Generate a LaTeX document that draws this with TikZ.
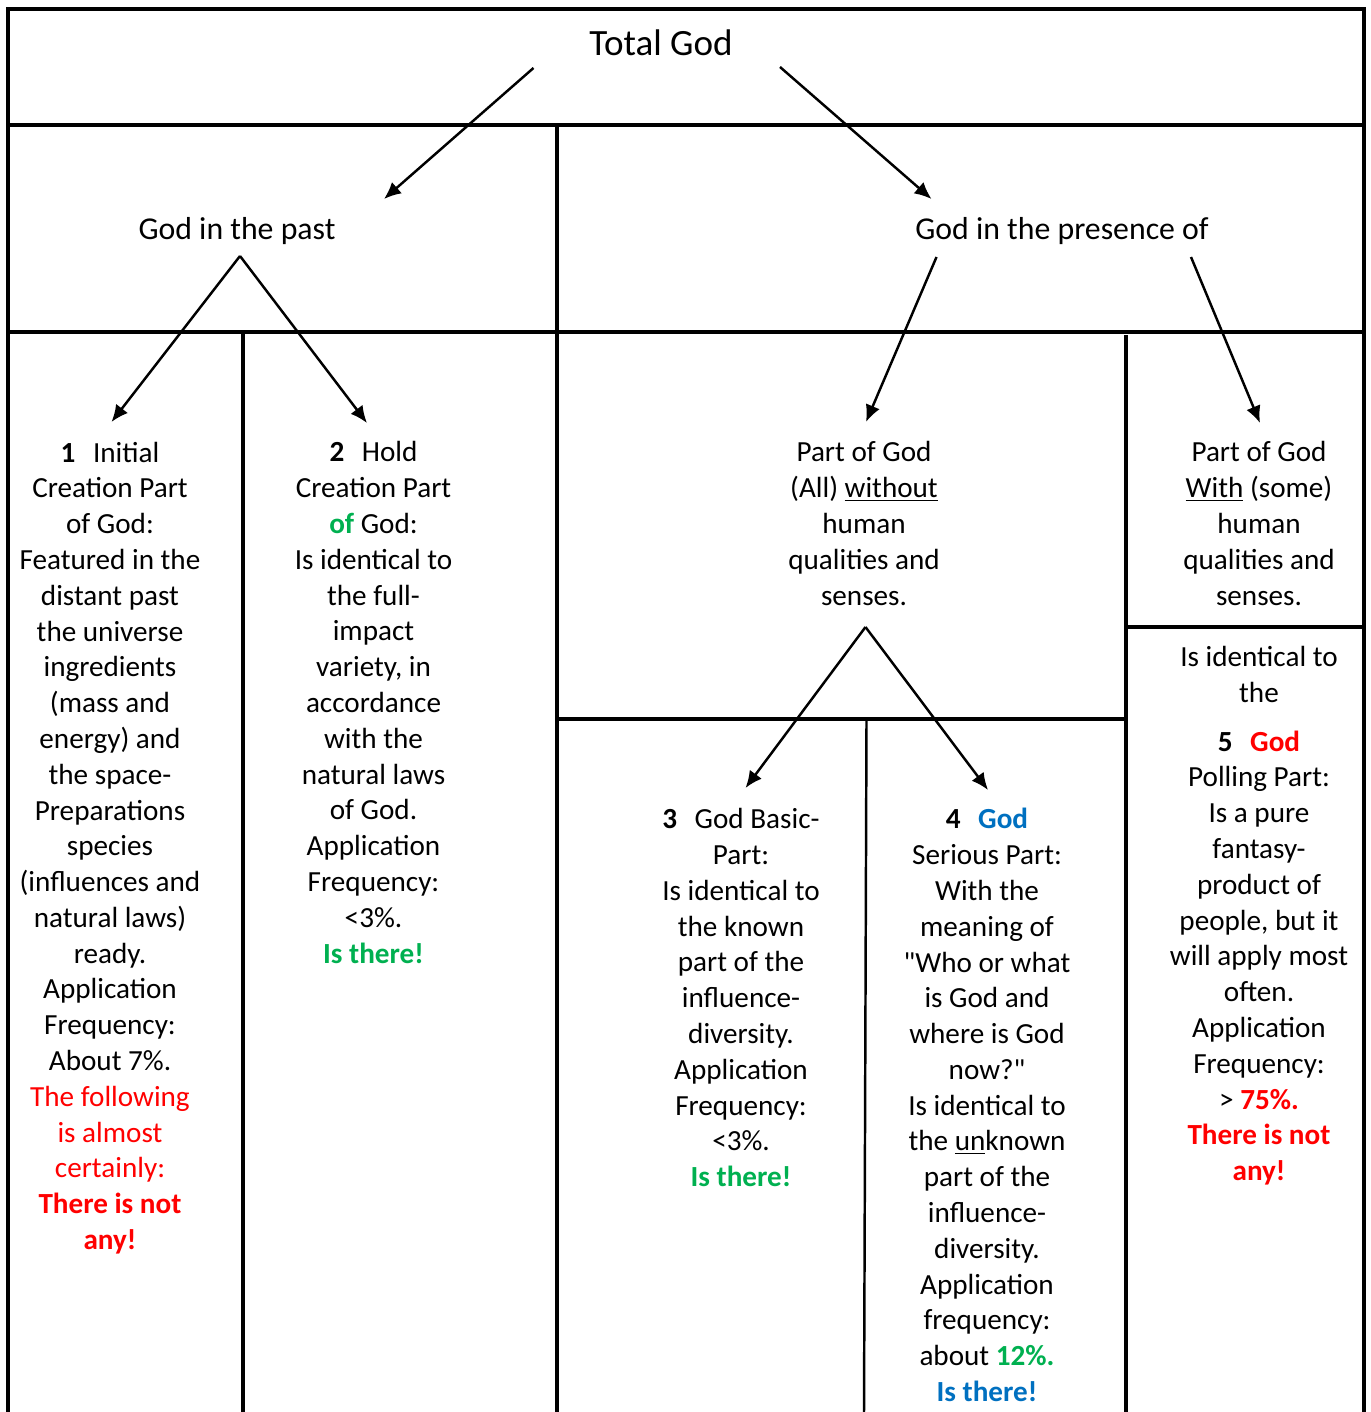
\documentclass[tikz,border=0pt]{standalone}
\usepackage{fontspec}
\setmainfont{Carlito}[Ligatures=TeXOff]
\usetikzlibrary{arrows.meta}
\definecolor{myred}{RGB}{255,0,0}
\definecolor{mygreen}{RGB}{0,176,80}
\definecolor{myblue}{RGB}{0,112,192}
\newcommand{\bodyf}{\fontsize{16.6pt}{20.37pt}\selectfont}
\newcommand{\headf}{\fontsize{18.1pt}{22pt}\selectfont}
\newcommand{\titlef}{\fontsize{21.1pt}{25pt}\selectfont}
\newcommand{\numgap}{\hspace{0.6em}}
\newcommand{\rb}[1]{\textcolor{myred}{\textbf{#1}}}
\newcommand{\gb}[1]{\textcolor{mygreen}{\textbf{#1}}}
\newcommand{\bb}[1]{\textcolor{myblue}{\textbf{#1}}}
\begin{document}
\begin{tikzpicture}[x=0.02cm,y=-0.02cm,
  frame/.style={line width=2.4pt},
  grid/.style={line width=2pt},
  thin grid/.style={line width=1.4pt},
  conn/.style={line width=1.4pt,-{Latex[length=0.34cm,width=0.3cm]}},
  txt/.style={font=\bodyf,align=center,anchor=base,inner sep=0pt},
  head/.style={font=\headf,anchor=base,inner sep=0pt},
  title/.style={font=\titlef,anchor=base,inner sep=0pt}]
\useasboundingbox (0,0) rectangle (1371,1412);
% frame and grid
\draw[frame] (8,1412) -- (8,9) -- (1364,9) -- (1364,1412);
\draw[grid] (8,125) -- (1364,125);
\draw[grid] (8,332) -- (1364,332);
\draw[grid] (557,125) -- (557,1412);
\draw[grid] (243,332) -- (243,1412);
\draw[grid] (1126,335) -- (1126,1412);
\draw[grid] (1126,627) -- (1364,627);
\draw[grid] (557,719) -- (1126,719);
\draw[thin grid] (866.5,719) -- (864,1412);
% titles
\node[title] (total) at (661,56) {Total God};
\node[head] (past) at (237,240) {God in the past};
\node[head] (pres) at (1062,240) {God in the presence of};
% connector coordinates
\coordinate (tA) at (533.5,68);
\coordinate (tB) at (780,67);
\coordinate (pastE) at (384,199);
\coordinate (presE) at (931.5,199);
\coordinate (pastApex) at (240,256);
\coordinate (c1E) at (111.5,422);
\coordinate (c2E) at (367,423);
\coordinate (presL) at (936.5,257);
\coordinate (presR) at (1191,257);
\coordinate (woE) at (866,422);
\coordinate (wE) at (1260,423);
\coordinate (woApex) at (865.5,627);
\coordinate (c3E) at (745.5,788);
\coordinate (c4E) at (988,790);
\draw[conn] (tA) -- (pastE);
\draw[conn] (tB) -- (presE);
\draw[conn] (pastApex) -- (c1E);
\draw[conn] (pastApex) -- (c2E);
\draw[conn] (presL) -- (woE);
\draw[conn] (presR) -- (wE);
\draw[conn] (woApex) -- (c3E);
\draw[conn] (woApex) -- (c4E);
% column 1 (anchor = baseline of last line)
\node[txt] (col1) at (110,1249.5) {\textbf{1}\numgap Initial\\Creation Part\\of God:\\Featured in the\\distant past\\the universe\\ingredients\\(mass and\\energy) and\\the space-\\Preparations\\species\\(influences and\\natural laws)\\ready.\\Application\\Frequency:\\About 7\%.\\\textcolor{myred}{The following}\\\textcolor{myred}{is almost}\\\textcolor{myred}{certainly:}\\\rb{There is not}\\\rb{any!}};
% column 2
\node[txt] (col2) at (373.5,963) {\textbf{2}\numgap Hold\\Creation Part\\\gb{of} God:\\Is identical to\\the full-\\impact\\variety, in\\accordance\\with the\\natural laws\\of God.\\Application\\Frequency:\\<3\%.\\\gb{Is there!}};
% without
\node[txt] (wo) at (864,605) {Part of God\\(All) \underline{without}\\human\\qualities and\\senses.};
% with
\node[txt] (wi) at (1259,605) {Part of God\\\underline{With} (some)\\human\\qualities and\\senses.};
% column 5
\node[txt] (c5a) at (1259,702.5) {Is identical to\\the};
\node[txt] (c5b) at (1259,1180.6) {\textbf{5}\numgap\rb{God}\\Polling Part:\\Is a pure\\fantasy-\\product of\\people, but it\\will apply most\\often.\\Application\\Frequency:\\> \rb{75\%.}\\\rb{There is not}\\\rb{any!}};
% column 3
\node[txt] (col3) at (741,1186.7) {\textbf{3}\numgap God Basic-\\Part:\\Is identical to\\the known\\part of the\\influence-\\diversity.\\Application\\Frequency:\\<3\%.\\\gb{Is there!}};
% column 4
\node[txt] (col4) at (987,1401.5) {\textbf{4}\numgap\bb{God}\\Serious Part:\\With the\\meaning of\\"Who or what\\is God and\\where is God\\now?"\\Is identical to\\the \underline{un}known\\part of the\\influence-\\diversity.\\Application\\frequency:\\about \gb{12\%.}\\\bb{Is there!}};
\end{tikzpicture}
\end{document}
